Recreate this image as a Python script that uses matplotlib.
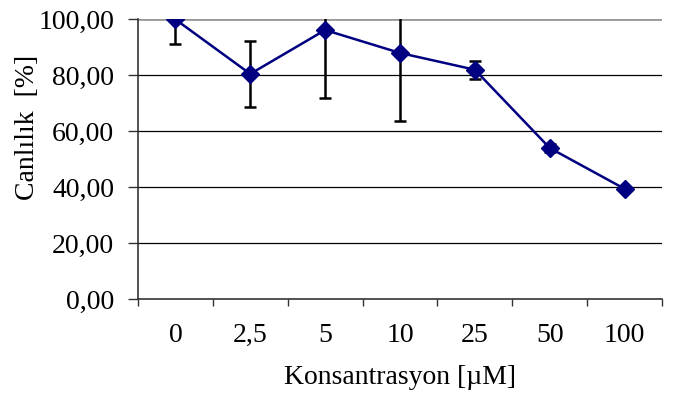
import numpy as np
import matplotlib.pyplot as plt

# Veri
konsantrasyon = ['0', '2,5', '5', '10', '25', '50', '100']
canlilik = [100.0, 80.5, 96.2, 88.0, 82.0, 54.0, 39.4]
hata = [8.7, 11.9, 24.2, 24.3, 3.2, 1.5, 0.8]

plt.rcParams['font.family'] = ['Liberation Serif', 'DejaVu Serif']

fig = plt.figure(figsize=(6.73, 3.96), dpi=100)
ax = fig.add_axes([0.205, 0.245, 0.7787, 0.706])

x = np.arange(len(konsantrasyon))

# y grid
for v in [20, 40, 60, 80]:
    ax.axhline(v, color='black', lw=0.9, zorder=1)
ax.axhline(100, color='#999999', lw=2, zorder=1)

ax.errorbar(x, canlilik, yerr=hata, fmt='none', ecolor='black',
            elinewidth=1.8, capsize=4.5, capthick=1.8, zorder=2)
ax.plot(x, canlilik, color='#000080', lw=1.8, marker='D', markersize=9,
        markerfacecolor='#000080', markeredgecolor='#000080', zorder=3)

ax.set_xlim(-0.5, len(konsantrasyon) - 0.5)
ax.set_ylim(0, 100)

ax.set_yticks([0, 20, 40, 60, 80, 100])
ax.set_yticklabels(['0,00', '20,00', '40,00', '60,00', '80,00', '100,00'])
ax.set_xticks(x)
ax.set_xticklabels(konsantrasyon)
ax.set_xticks(np.arange(-0.5, len(konsantrasyon)), minor=True)
ax.tick_params(axis='x', which='major', length=0, pad=17.5, labelsize=20)
ax.tick_params(axis='x', which='minor', length=5, color='#333333', width=1)
ax.tick_params(axis='y', length=7, color='#333333', width=1, labelsize=20, pad=10)

for s in ['top', 'right']:
    ax.spines[s].set_visible(False)
ax.spines['left'].set_color('#333333')
ax.spines['bottom'].set_color('#333333')
ax.spines['left'].set_linewidth(1.2)
ax.spines['bottom'].set_linewidth(1.2)

ax.set_xlabel('Konsantrasyon [µM]', fontsize=20, labelpad=12)
ax.set_ylabel('Canlılık  [%]', fontsize=20, va='center')
ax.yaxis.set_label_coords(-0.21, 0.612)

plt.savefig('out.png', dpi=100)
